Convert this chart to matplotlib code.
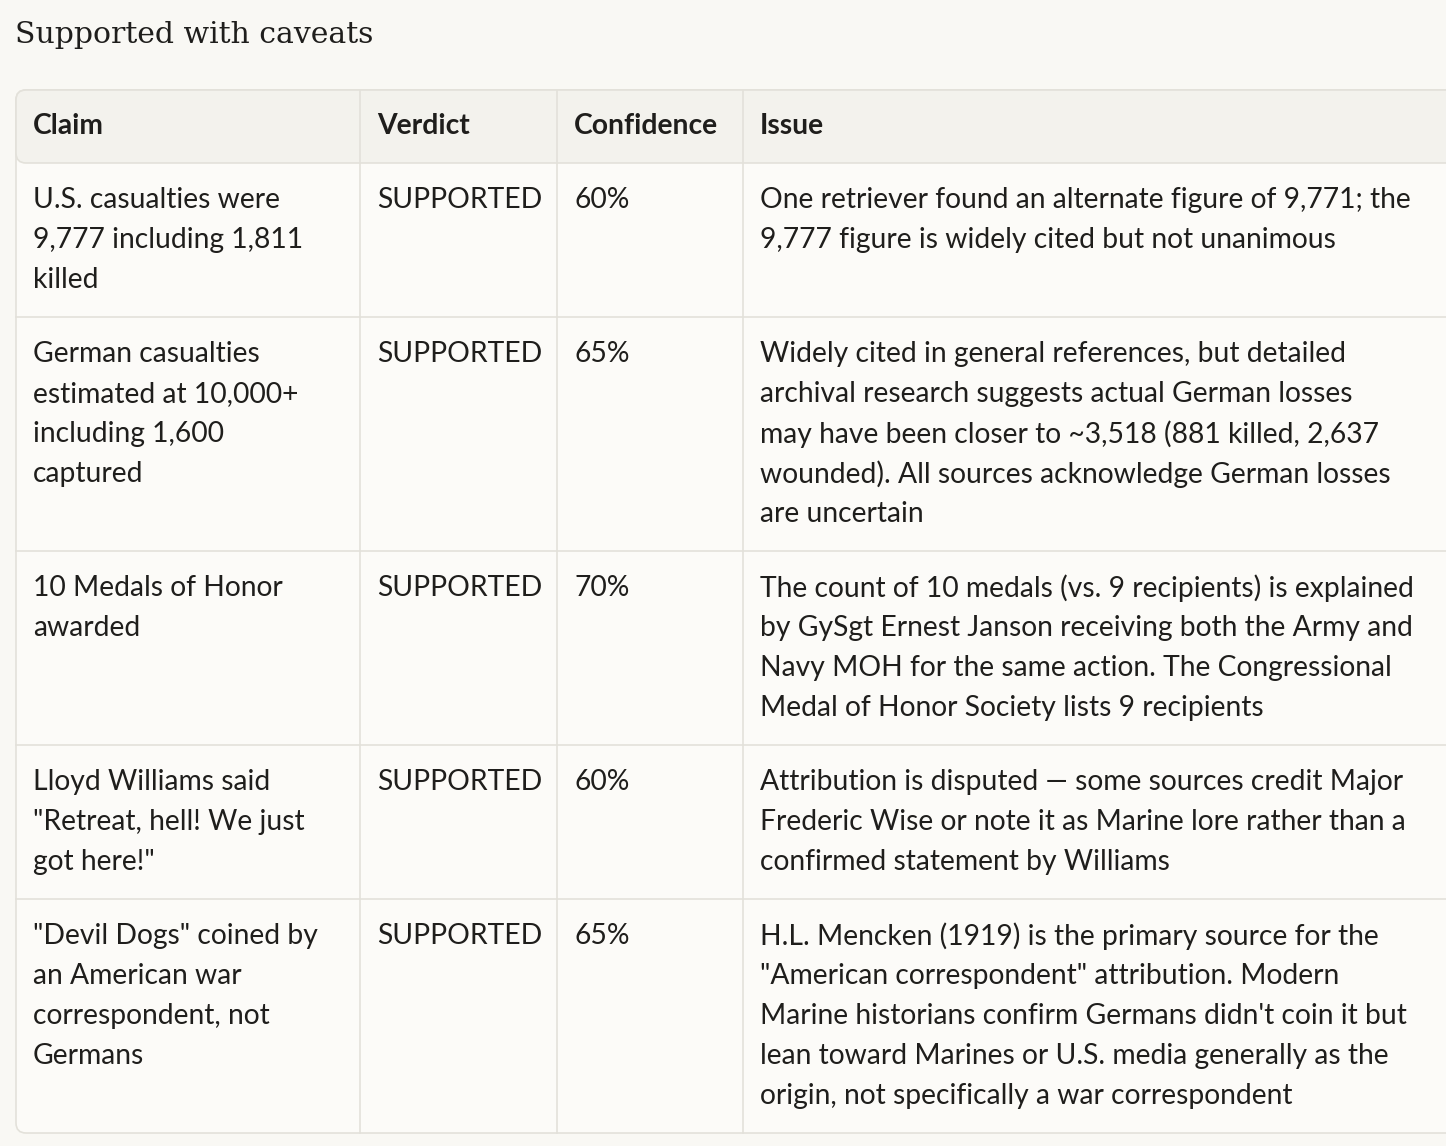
import matplotlib.pyplot as plt
from matplotlib.patches import FancyBboxPatch

title = "Supported with caveats"
headers = ["Claim", "Verdict", "Confidence", "Issue"]
claims = [
    ["U.S. casualties were", "9,777 including 1,811", "killed"],
    ["German casualties", "estimated at 10,000+", "including 1,600", "captured"],
    ["10 Medals of Honor", "awarded"],
    ["Lloyd Williams said", "\"Retreat, hell! We just", "got here!\""],
    ["\"Devil Dogs\" coined by", "an American war", "correspondent, not", "Germans"],
]
verdicts = ["SUPPORTED"] * 5
confidences = ["60%", "65%", "70%", "60%", "65%"]
issues = [
    ["One retriever found an alternate figure of 9,771; the",
     "9,777 figure is widely cited but not unanimous"],
    ["Widely cited in general references, but detailed",
     "archival research suggests actual German losses",
     "may have been closer to ~3,518 (881 killed, 2,637",
     "wounded). All sources acknowledge German losses",
     "are uncertain"],
    ["The count of 10 medals (vs. 9 recipients) is explained",
     "by GySgt Ernest Janson receiving both the Army and",
     "Navy MOH for the same action. The Congressional",
     "Medal of Honor Society lists 9 recipients"],
    ["Attribution is disputed \u2014 some sources credit Major",
     "Frederic Wise or note it as Marine lore rather than a",
     "confirmed statement by Williams"],
    ["H.L. Mencken (1919) is the primary source for the",
     "\"American correspondent\" attribution. Modern",
     "Marine historians confirm Germans didn't coin it but",
     "lean toward Marines or U.S. media generally as the",
     "origin, not specifically a war correspondent"],
]

W, H = 1446, 1146
bg = "#f9f8f4"
line_c = "#e3e1da"
txt_c = "#1f1e1c"
col_x = [16, 360, 557, 743, 1460]
pad = 17
line_h = 40
head_top, head_h = 90, 73
font = "Lato"
fs = 20.3

fig = plt.figure(figsize=(W / 100, H / 100), dpi=100, facecolor=bg)
ax = fig.add_axes([0, 0, 1, 1])
ax.set_xlim(0, W)
ax.set_ylim(H, 0)
ax.axis("off")

fig.text(15 / W, 1 - 35 / H, title, fontsize=21.5, family="DejaVu Serif",
         color=txt_c, va="center", ha="left")

# row heights from number of wrapped lines
n_lines = [max(len(c), len(i)) for c, i in zip(claims, issues)]
row_h = [n * line_h + 34 for n in n_lines]
bottom = head_top + head_h + sum(row_h)

ax.add_patch(FancyBboxPatch((col_x[0], head_top), 1500, bottom - head_top,
                            boxstyle="round,pad=0,rounding_size=10",
                            fc="#fcfbf8", ec=line_c, lw=1.2, zorder=1))
ax.add_patch(FancyBboxPatch((col_x[0], head_top), 1500, head_h,
                            boxstyle="round,pad=0,rounding_size=10",
                            fc="#f3f2ed", ec=line_c, lw=1.2, zorder=2))

for j, h in enumerate(headers):
    ax.text(col_x[j] + pad, head_top + head_h / 2, h, fontsize=fs, family=font,
            fontweight="bold", color=txt_c, va="center", zorder=5)

y = head_top + head_h
for r in range(len(claims)):
    cells = [claims[r], [verdicts[r]], [confidences[r]], issues[r]]
    for j, cell in enumerate(cells):
        for k, s in enumerate(cell):
            ax.text(col_x[j] + pad, y + 37 + k * line_h, s, fontsize=fs,
                    family=font, color=txt_c, va="center", zorder=5)
    y2 = y + row_h[r]
    if r < len(claims) - 1:
        ax.plot([col_x[0], W], [y2, y2], color=line_c, lw=1.2, zorder=3)
    y = y2

for x in col_x[1:4]:
    ax.plot([x, x], [head_top, bottom], color=line_c, lw=1.2, zorder=3)

fig.savefig("out.png", dpi=100, facecolor=bg)
